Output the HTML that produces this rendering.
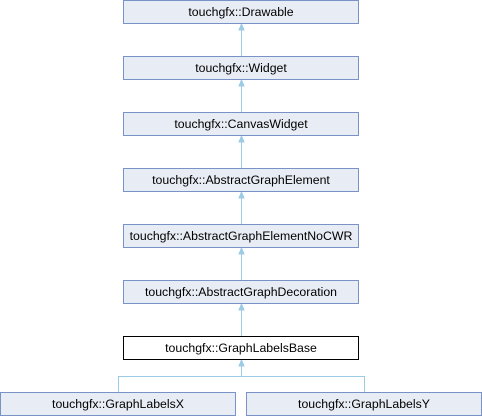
<!DOCTYPE html>
<html><head><style>body{margin:0;background:#fff}svg{display:block}</style></head><body>
<svg width="482" height="416" viewBox="0 0 482 416" xmlns="http://www.w3.org/2000/svg" font-family="Liberation Sans, sans-serif" font-size="12.3">
<defs><marker id="a" markerWidth="8" markerHeight="8" refX="4" refY="0" orient="0" markerUnits="userSpaceOnUse"><path d="M1.5,6 L4,0 L6.5,6 Z" fill="#9ccbe6" stroke="#9ccbe6"/></marker></defs>
<g stroke="#9ccbe6" stroke-width="1" fill="none">
<line x1="241.5" y1="56" x2="241.5" y2="24" marker-end="url(#a)"/>
<line x1="241.5" y1="112" x2="241.5" y2="80" marker-end="url(#a)"/>
<line x1="241.5" y1="168" x2="241.5" y2="136" marker-end="url(#a)"/>
<line x1="241.5" y1="224" x2="241.5" y2="192" marker-end="url(#a)"/>
<line x1="241.5" y1="280" x2="241.5" y2="248" marker-end="url(#a)"/>
<line x1="241.5" y1="336" x2="241.5" y2="304" marker-end="url(#a)"/>
<line x1="241.5" y1="376" x2="241.5" y2="360" marker-end="url(#a)"/>
<polyline points="118.5,392 118.5,376.5 364.5,376.5 364.5,392"/>
</g>
<g fill="#e8ecf4" stroke="#7a93c6">
<rect x="123.5" y="0.5" width="235" height="23"/>
<rect x="123.5" y="56.5" width="235" height="23"/>
<rect x="123.5" y="112.5" width="235" height="23"/>
<rect x="123.5" y="168.5" width="235" height="23"/>
<rect x="123.5" y="224.5" width="235" height="23"/>
<rect x="123.5" y="280.5" width="235" height="23"/>
<rect x="123.5" y="336.5" width="235" height="23" fill="#fff" stroke="#000"/>
<rect x="0.5" y="392.5" width="235" height="23"/>
<rect x="246.5" y="392.5" width="235" height="23"/>
</g>
<g fill="#000" text-anchor="middle">
<text x="241" y="16">touchgfx::Drawable</text>
<text x="241" y="72">touchgfx::Widget</text>
<text x="241" y="128">touchgfx::CanvasWidget</text>
<text x="241" y="184">touchgfx::AbstractGraphElement</text>
<text x="241" y="240">touchgfx::AbstractGraphElementNoCWR</text>
<text x="241" y="296">touchgfx::AbstractGraphDecoration</text>
<text x="241" y="352">touchgfx::GraphLabelsBase</text>
<text x="118" y="408">touchgfx::GraphLabelsX</text>
<text x="364" y="408">touchgfx::GraphLabelsY</text>
</g>
</svg>
</body></html>
